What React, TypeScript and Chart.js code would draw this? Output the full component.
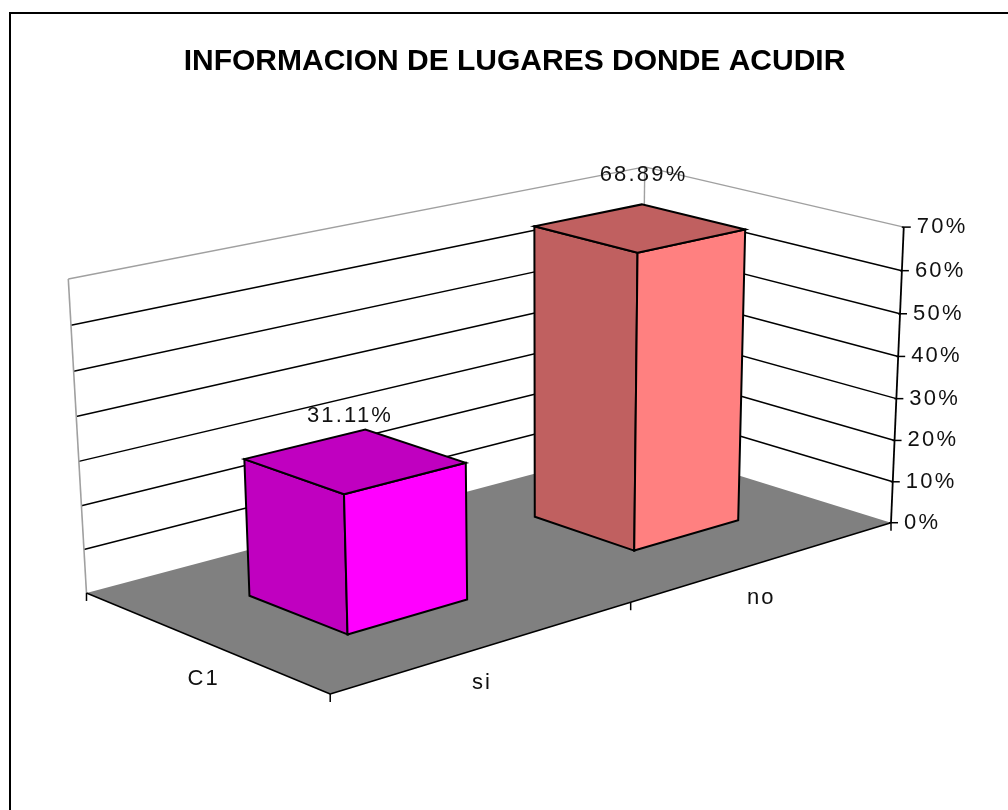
import React, { useEffect, useRef } from 'react';
import { Chart, registerables } from 'chart.js';

Chart.register(...registerables);

// ---------------- data ----------------
const TITLE = 'INFORMACION DE LUGARES DONDE ACUDIR';
const categories = ['si', 'no'];
const seriesNames = ['C1'];
const values = [31.11, 68.89];
const valueLabels = ['31.11%', '68.89%'];
const yTickValues = [0, 10, 20, 30, 40, 50, 60, 70];
const yTickLabels = ['0%', '10%', '20%', '30%', '40%', '50%', '60%', '70%'];
const faceColors = ['#FF00FF', '#FF8080'];
const shadeColors = ['#C000C0', '#C06060'];

// ---------------- layout (3D frame of the plot, projected) ----------------
// world coords: u = fraction along category axis, v = fraction of depth, h = fraction of value axis
const FRAME_ANCHORS: { w: number[]; s: number[] }[] = [
  { w: [0, 0, 0], s: [330, 695] },
  { w: [1, 0, 0], s: [890, 521] },
  { w: [0, 1, 0], s: [86, 592] },
  { w: [1, 1, 0], s: [643, 447] },
  { w: [1, 0, 1], s: [905, 228] },
  { w: [0, 1, 1], s: [69, 279] },
  { w: [1, 1, 1], s: [643, 166] },
];
const SERIES_DEPTH = [0.3, 0.7];
const FONT = '"Liberation Sans", Arial, sans-serif';

const NC = 500, NY = 400, NS = 500;

function solveCamera(anchors: { w: number[]; s: number[] }[]): number[] {
  const rows: number[][] = [];
  const rhs: number[] = [];
  for (const a of anchors) {
    const [X, Y, Z] = a.w;
    const x = (a.s[0] - NC) / NS;
    const y = (a.s[1] - NY) / NS;
    rows.push([X, Y, Z, 1, 0, 0, 0, 0, -x * X, -x * Y, -x * Z]);
    rhs.push(x);
    rows.push([0, 0, 0, 0, X, Y, Z, 1, -y * X, -y * Y, -y * Z]);
    rhs.push(y);
  }
  const n = 11;
  const M: number[][] = Array.from({ length: n }, () => new Array(n + 1).fill(0));
  rows.forEach((r, k) => {
    for (let i = 0; i < n; i++) {
      for (let j = 0; j < n; j++) M[i][j] += r[i] * r[j];
      M[i][n] += r[i] * rhs[k];
    }
  });
  for (let c = 0; c < n; c++) {
    let piv = c;
    for (let r = c + 1; r < n; r++) if (Math.abs(M[r][c]) > Math.abs(M[piv][c])) piv = r;
    const tmp = M[c]; M[c] = M[piv]; M[piv] = tmp;
    for (let r = 0; r < n; r++) {
      if (r === c) continue;
      const f = M[r][c] / M[c][c];
      for (let k = c; k <= n; k++) M[r][k] -= f * M[c][k];
    }
  }
  return M.map((row, i) => row[n] / row[i]);
}

const CAM = solveCamera(FRAME_ANCHORS);

function proj(u: number, v: number, h: number): [number, number] {
  const p = CAM;
  const w = p[8] * u + p[9] * v + p[10] * h + 1;
  const x = (p[0] * u + p[1] * v + p[2] * h + p[3]) / w;
  const y = (p[4] * u + p[5] * v + p[6] * h + p[7]) / w;
  return [x * NS + NC, y * NS + NY];
}

function line(ctx: CanvasRenderingContext2D, a: [number, number], b: [number, number], color: string, width: number) {
  ctx.beginPath();
  ctx.moveTo(a[0], a[1]);
  ctx.lineTo(b[0], b[1]);
  ctx.strokeStyle = color;
  ctx.lineWidth = width;
  ctx.stroke();
}

function poly(ctx: CanvasRenderingContext2D, pts: [number, number][], fill: string, stroke?: string, width = 2) {
  ctx.beginPath();
  pts.forEach((p, i) => (i === 0 ? ctx.moveTo(p[0], p[1]) : ctx.lineTo(p[0], p[1])));
  ctx.closePath();
  ctx.fillStyle = fill;
  ctx.fill();
  if (stroke) {
    ctx.strokeStyle = stroke;
    ctx.lineWidth = width;
    ctx.lineJoin = 'miter';
    ctx.stroke();
  }
}

function text(ctx: CanvasRenderingContext2D, s: string, x: number, y: number, align: CanvasTextAlign) {
  ctx.font = `22px ${FONT}`;
  (ctx as any).letterSpacing = '2.2px';
  ctx.fillStyle = '#111';
  ctx.textAlign = align;
  ctx.textBaseline = 'middle';
  ctx.fillText(s, x, y);
  (ctx as any).letterSpacing = '0px';
}

const backgroundPlugin = {
  id: 'bg',
  beforeDraw(chart: any) {
    const ctx: CanvasRenderingContext2D = chart.ctx;
    ctx.save();
    ctx.fillStyle = '#fff';
    ctx.fillRect(0, 0, chart.width, chart.height);
    ctx.strokeStyle = '#000';
    ctx.lineWidth = 2;
    ctx.strokeRect(10, 13, chart.width + 40, chart.height + 40);
    ctx.restore();
  },
};

const scenePlugin = {
  id: 'scene3d',
  afterDatasetsDraw(chart: any) {
    const ctx: CanvasRenderingContext2D = chart.ctx;
    const xs = chart.scales.x;
    const ys = chart.scales.y;
    const y0 = ys.getPixelForValue(0);
    const yTop = ys.getPixelForValue(yTickValues[yTickValues.length - 1]);
    const hOf = (val: number) => (y0 - ys.getPixelForValue(val)) / (y0 - yTop);
    const uOf = (px: number) => (px - xs.left) / xs.width;
    const [v0, v1] = SERIES_DEPTH;
    const GRAY = '#a0a0a0';

    ctx.save();
    ctx.lineCap = 'butt';

    // gridlines on walls
    yTickValues.forEach((t, i) => {
      if (i === 0 || i === yTickValues.length - 1) return;
      const h = hOf(t);
      line(ctx, proj(0, 1, h), proj(1, 1, h), '#000', 1.5);
      line(ctx, proj(1, 1, h), proj(1, 0, h), '#000', 1.5);
    });
    // wall borders
    line(ctx, proj(0, 1, 0), proj(0, 1, 1), GRAY, 1.6);
    line(ctx, proj(0, 1, 1), proj(1, 1, 1), GRAY, 1.4);
    line(ctx, proj(1, 1, 1), proj(1, 0, 1), GRAY, 1.4);
    line(ctx, proj(1, 1, 0), proj(1, 1, 1), GRAY, 1.4);

    // floor
    poly(ctx, [proj(0, 0, 0), proj(1, 0, 0), proj(1, 1, 0), proj(0, 1, 0)], '#808080');

    // front axes
    line(ctx, proj(0, 1, 0), proj(0, 0, 0), '#000', 1.5);
    line(ctx, proj(0, 0, 0), proj(1, 0, 0), '#000', 1.5);
    // category ticks
    for (let i = 0; i <= categories.length; i++) {
      const p = proj(i / categories.length, 0, 0);
      line(ctx, p, [p[0], p[1] + 8], '#000', 1.5);
    }
    // series ticks
    const pl = proj(0, 1, 0);
    line(ctx, pl, [pl[0], pl[1] + 8], '#000', 1.5);

    // value axis
    line(ctx, proj(1, 0, 0), proj(1, 0, 1), '#000', 1.8);
    yTickValues.forEach((t, i) => {
      const p = proj(1, 0, hOf(t));
      line(ctx, [p[0] - 2, p[1]], [p[0] + 7, p[1]], '#000', 1.5);
      text(ctx, yTickLabels[i], p[0] + 13, p[1], 'left');
    });

    // bars (back to front: right first)
    const meta = chart.getDatasetMeta(0);
    const order = meta.data.map((_: any, i: number) => i).reverse();
    order.forEach((i: number) => {
      const bar = meta.data[i];
      const { x, y, width } = bar.getProps(['x', 'y', 'width'], true);
      const u0 = uOf(x - width / 2);
      const u1 = uOf(x + width / 2);
      const h = (y0 - y) / (y0 - yTop);
      // left face (u = u0)
      poly(ctx, [proj(u0, v0, 0), proj(u0, v1, 0), proj(u0, v1, h), proj(u0, v0, h)], shadeColors[i], '#000');
      // front-right face (v = v0)
      poly(ctx, [proj(u0, v0, 0), proj(u1, v0, 0), proj(u1, v0, h), proj(u0, v0, h)], faceColors[i], '#000');
      // top
      poly(ctx, [proj(u0, v0, h), proj(u1, v0, h), proj(u1, v1, h), proj(u0, v1, h)], shadeColors[i], '#000');
      // data label
      const near = proj(u0, v0, h);
      text(ctx, valueLabels[i], near[0] + 6, near[1] - 78, 'center');
    });

    // category labels
    categories.forEach((c, i) => {
      const p = proj((i + 0.5) / categories.length, 0, 0);
      text(ctx, c, p[0] - 4, p[1] + 37, 'center');
    });
    // series label
    seriesNames.forEach((s, i) => {
      const p = proj(0, (i + 0.5) / seriesNames.length, 0);
      text(ctx, s, p[0], p[1] + 37, 'center');
    });

    ctx.restore();
  },
};

export default function App() {
  const ref = useRef<HTMLCanvasElement | null>(null);
  useEffect(() => {
    if (!ref.current) return;
    const chart = new Chart(ref.current, {
      type: 'bar',
      data: {
        labels: categories,
        datasets: [
          {
            label: seriesNames[0],
            data: values,
            backgroundColor: 'rgba(0,0,0,0)',
            borderWidth: 0,
            categoryPercentage: 0.4,
            barPercentage: 1,
          },
        ],
      },
      options: {
        responsive: false,
        animation: false,
        layout: { padding: { left: 21 } },
        events: [],
        plugins: {
          legend: { display: false },
          tooltip: { enabled: false },
          title: {
            display: true,
            text: TITLE,
            color: '#000',
            font: { family: FONT, size: 30, weight: 'bold' },
            padding: { top: 44, bottom: 10 },
          },
        },
        scales: {
          x: { display: false, offset: true },
          y: { display: false, min: 0, max: 70, ticks: { stepSize: 10 } },
        },
      },
      plugins: [backgroundPlugin, scenePlugin],
    } as any);
    return () => chart.destroy();
  }, []);
  return (
    <div style={{ position: 'absolute', left: 0, top: 0, width: 1008, height: 810 }}>
      <canvas ref={ref} width={1008} height={810} style={{ display: 'block' }} />
    </div>
  );
}
